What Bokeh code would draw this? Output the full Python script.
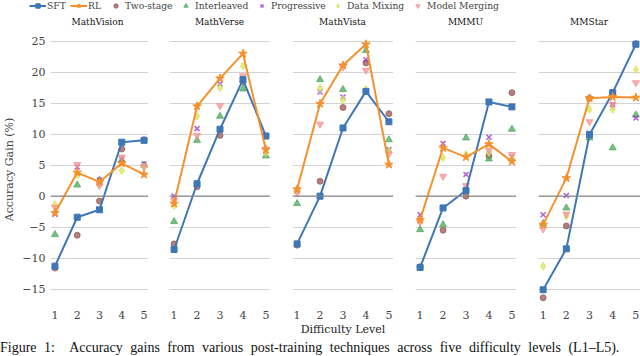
from bokeh.plotting import figure
from bokeh.layouts import column, row
from bokeh.models import Span, Legend, LegendItem, Div, FixedTicker
from bokeh.embed import file_html
from bokeh.resources import INLINE

levels = [1, 2, 3, 4, 5]
benchmarks = ["MathVision", "MathVerse", "MathVista", "MMMU", "MMStar"]
y_ticks = [-15, -10, -5, 0, 5, 10, 15, 20, 25]

sft = {
    "MathVision": [-11.3, -3.4, -2.2, 8.7, 9.0],
    "MathVerse": [-8.6, 2.0, 10.8, 18.8, 9.7],
    "MathVista": [-7.7, 0.0, 11.0, 16.9, 12.0],
    "MMMU": [-11.5, -1.9, 0.9, 15.2, 14.4],
    "MMStar": [-15.1, -8.5, 9.9, 16.7, 24.5],
}
rl = {
    "MathVision": [-2.7, 3.8, 2.3, 5.3, 3.5],
    "MathVerse": [-1.2, 14.5, 19.0, 23.0, 7.5],
    "MathVista": [1.1, 14.9, 21.1, 24.5, 5.1],
    "MMMU": [-3.8, 7.8, 6.3, 8.4, 5.6],
    "MMStar": [-4.6, 2.9, 15.8, 16.0, 15.9],
}
two_stage = {
    "MathVision": [-11.6, -6.3, -0.8, 7.6, 9.1],
    "MathVerse": [-7.7, 1.5, 9.8, 18.4, 9.7],
    "MathVista": [-7.9, 2.4, 14.3, 21.5, 13.3],
    "MMMU": [-11.4, -5.5, 0.0, 6.5, 16.7],
    "MMStar": [-16.4, -4.8, 15.8, 16.5, 24.6],
}
interleaved = {
    "MathVision": [-6.2, 1.8, 2.6, 5.8, 5.0],
    "MathVerse": [-4.1, 9.0, 12.9, 17.3, 6.5],
    "MathVista": [-1.2, 18.8, 17.2, 23.5, 9.1],
    "MMMU": [-5.4, -4.6, 9.4, 6.0, 10.8],
    "MMStar": [-4.4, -1.9, 9.4, 7.8, 13.1],
}
progressive = {
    "MathVision": [-2.9, 4.7, 2.6, 5.9, 5.2],
    "MathVerse": [0.0, 10.9, 18.1, 18.6, 7.2],
    "MathVista": [1.0, 16.8, 16.0, 22.0, 7.5],
    "MMMU": [-3.0, 8.5, 3.5, 9.5, 6.3],
    "MMStar": [-3.0, 0.1, 10.2, 14.8, 12.6],
}
data_mixing = {
    "MathVision": [-1.4, 3.4, 2.0, 4.1, 4.7],
    "MathVerse": [-1.5, 12.9, 17.5, 21.0, 7.0],
    "MathVista": [1.0, 17.4, 15.5, 17.2, 7.2],
    "MMMU": [-3.9, 6.2, 6.7, 7.1, 6.1],
    "MMStar": [-11.3, -3.2, 14.0, 14.0, 20.4],
}
model_merging = {
    "MathVision": [-1.8, 5.1, 1.7, 6.3, 4.8],
    "MathVerse": [-0.7, 9.8, 14.6, 19.4, 7.6],
    "MathVista": [0.5, 11.6, 20.8, 20.3, 6.8],
    "MMMU": [-4.2, 3.2, 1.7, 7.4, 6.7],
    "MMStar": [-5.3, -2.9, 12.0, 14.8, 18.3],
}

FONT = "DejaVu Serif"
BLUE = "#3e76b6"
ORANGE = "#f5912c"
scatter_series = [
    ("Two-stage", two_stage, "circle", "#9a5752", 6),
    ("Interleaved", interleaved, "triangle", "#4ea85c", 7),
    ("Progressive", progressive, "x", "#9a2fc4", 7),
    ("Data Mixing", data_mixing, "diamond", "#d6e45a", 8),
    ("Model Merging", model_merging, "inverted_triangle", "#f79191", 7),
]


def add_series(p, name):
    out = {}
    for label, series, marker, color, size in scatter_series:
        r = p.scatter(levels, series[name], marker=marker, size=size,
                      fill_color=color, line_color=color, fill_alpha=0.75,
                      line_alpha=0.75, line_width=1.6 if marker == "x" else 1)
        out[label] = [r]
    l1 = p.line(levels, sft[name], line_color=BLUE, line_width=2)
    s1 = p.scatter(levels, sft[name], marker="square", size=6,
                   fill_color=BLUE, line_color=BLUE)
    l2 = p.line(levels, rl[name], line_color=ORANGE, line_width=2)
    s2 = p.scatter(levels, rl[name], marker="star", size=9,
                   fill_color=ORANGE, line_color=ORANGE)
    out["SFT"] = [l1, s1]
    out["RL"] = [l2, s2]
    return out


widths = [148, 122, 123, 123, 124]
left_borders = [47, 21, 22, 22, 22]
panels = []
titles = []
for i, name in enumerate(benchmarks):
    first = i == 0
    titles.append(Div(text=name, width=widths[i], height=12, margin=0,
                      styles={"text-align": "center",
                              "padding-left": f"{left_borders[i]}px",
                              "box-sizing": "border-box", "white-space": "nowrap",
                              "font-family": FONT, "font-size": "9px",
                              "line-height": "12px", "color": "#111"}))
    p = figure(width=widths[i], height=296, x_range=(0.8, 5.2), y_range=(-17.8, 26.4),
               output_backend="svg", toolbar_location=None,
               min_border_left=left_borders[i],
               min_border_right=0, min_border_top=4, min_border_bottom=18)
    p.outline_line_color = None
    p.background_fill_color = "white"
    p.border_fill_color = "white"
    p.xgrid.visible = False
    p.ygrid.ticker = FixedTicker(ticks=y_ticks)
    p.ygrid.grid_line_color = "#d3d3d3"
    p.ygrid.grid_line_width = 1.2
    p.xaxis.ticker = FixedTicker(ticks=levels)
    p.yaxis.ticker = FixedTicker(ticks=y_ticks)
    p.yaxis.major_label_overrides = {t: str(t).replace("-", "\u2212") for t in y_ticks}
    for ax in (p.xaxis[0], p.yaxis[0]):
        ax.axis_line_color = None
        ax.major_tick_line_color = None
        ax.minor_tick_line_color = None
        ax.major_tick_out = 0
        ax.minor_tick_out = 0
        ax.major_label_text_font = FONT
        ax.major_label_text_font_size = "11px"
        ax.axis_label_text_font = FONT
        ax.axis_label_text_font_size = "11px"
        ax.axis_label_text_font_style = "normal"
        ax.major_label_standoff = 4
        ax.axis_label_standoff = 3
    p.yaxis.major_label_standoff = 5
    if first:
        p.yaxis.axis_label = "Accuracy Gain (%)"
    else:
        p.yaxis.visible = False
    p.add_layout(Span(location=0, dimension="width", line_color="#8a8a8a",
                      line_width=1.4))
    add_series(p, name)
    panels.append(p)

# legend strip: the first panel's series drawn out of view, used only for the legend
lg = figure(width=640, height=16, output_backend="svg", toolbar_location=None,
            min_border=0, x_range=(100, 101), y_range=(100, 101))
lg.axis.visible = False
lg.grid.visible = False
lg.outline_line_color = None
rs = add_series(lg, benchmarks[0])
order = ["SFT", "RL", "Two-stage", "Interleaved", "Progressive", "Data Mixing", "Model Merging"]
legend_x = [29, 70, 107, 177, 253, 329, 409]
for label, x in zip(order, legend_x):
    lg.add_layout(Legend(items=[LegendItem(label=label, renderers=rs[label])],
                         orientation="horizontal", location=(x, 5),
                         label_text_font=FONT, label_text_font_size="9.2px",
                         glyph_width=17, glyph_height=11, label_standoff=1,
                         spacing=0, padding=0, margin=0, border_line_color=None,
                         background_fill_alpha=0, label_height=11, label_width=10),
                  "center")

x_label = Div(text="Difficulty Level", width=640, height=12, margin=0,
              styles={"text-align": "center", "padding-left": "46px",
                      "box-sizing": "border-box",
                      "font-family": FONT, "font-size": "11px",
                      "line-height": "12px", "color": "#222", "overflow": "hidden"})

caption = Div(text="Figure 1:&nbsp; Accuracy gains from various post-training techniques across five difficulty levels (L1\u2013L5).",
              width=640, height=15, margin=(4, 0, 0, 0),
              styles={"overflow": "hidden", "white-space": "nowrap",
                      "font-family": "Liberation Serif", "font-size": "14px",
                      "word-spacing": "4px",
                      "line-height": "15px", "color": "#111"})

layout = column(lg, row(*titles, spacing=0), row(*panels, spacing=0), x_label, caption,
                spacing=0)
open("out.html", "w").write(file_html(layout, INLINE))
